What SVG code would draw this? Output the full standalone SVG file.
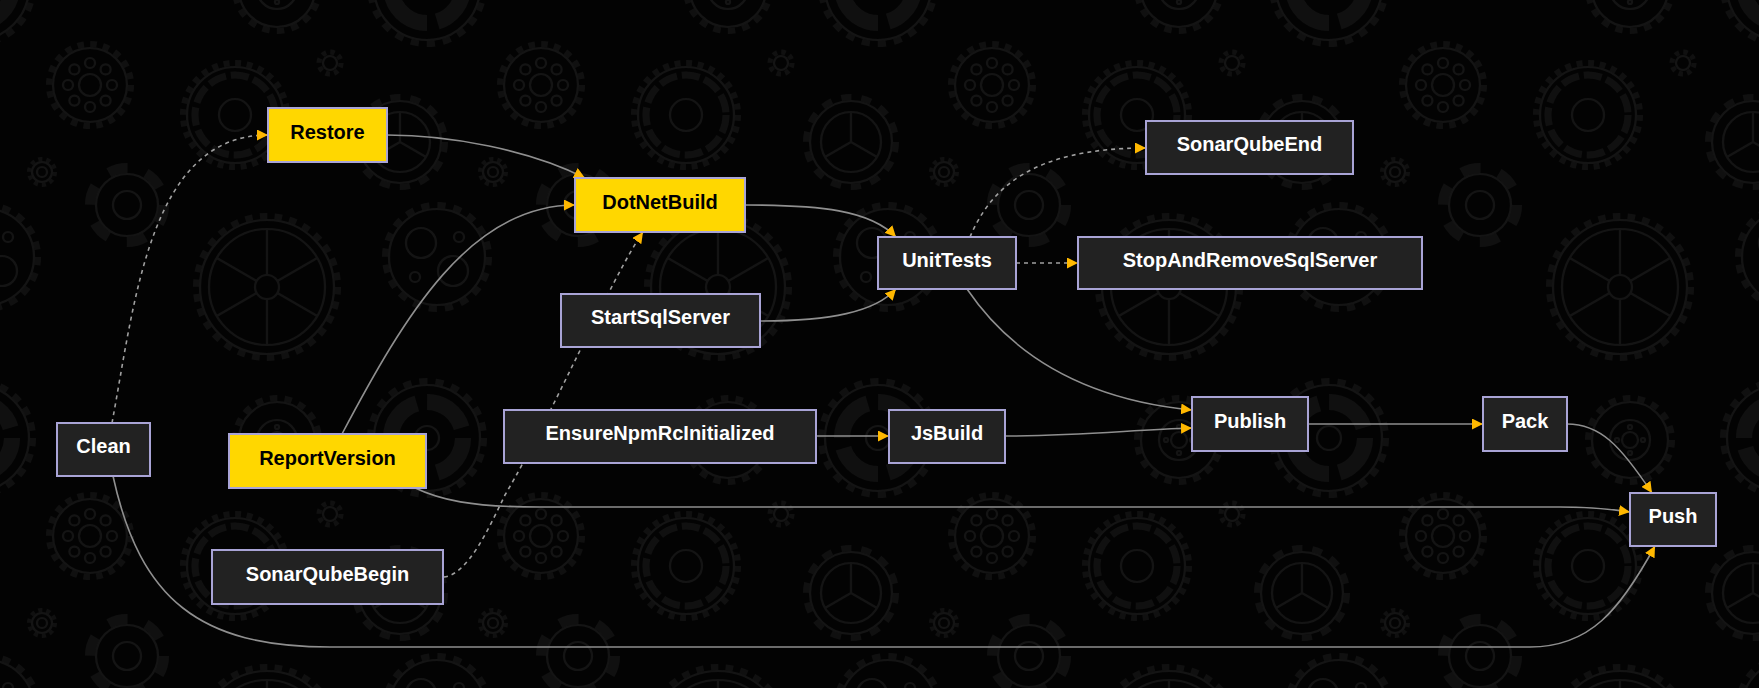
<svg xmlns="http://www.w3.org/2000/svg" width="1759" height="688" viewBox="0 0 1759 688">
<defs>
<style>
.node rect{stroke:#a9a4d6;stroke-width:2}
.dark rect{fill:#222222}
.gold rect{fill:#FFD700}
.node text{font-family:"Liberation Sans",Arial,sans-serif;font-size:20px;font-weight:bold;text-anchor:middle}
.dark text{fill:#ffffff}
.gold text{fill:#000000}
.edge{fill:none;stroke:#8f8f8f;stroke-width:1.6}
.dash{stroke:#a0a0a0;stroke-dasharray:4 4}
.gl{fill:none;stroke:#141414;stroke-width:2.2}
.gt{fill:none;stroke:#101010}
</style>
<marker id="arr" viewBox="0 0 10 10" refX="10" refY="5" markerWidth="11" markerHeight="11" markerUnits="userSpaceOnUse" orient="auto">
<path d="M0,0 L10,5 L0,10 z" fill="#FFB800"/>
</marker>
<g id="gHoles">
<circle class="gt" r="41" stroke-width="6" stroke-dasharray="6.44 6.44"/>
<circle class="gl" r="37"/>
<circle class="gl" r="11"/>
<circle class="gl" cx="22" cy="0" r="5"/><circle class="gl" cx="-22" cy="0" r="5"/>
<circle class="gl" cx="0" cy="22" r="5"/><circle class="gl" cx="0" cy="-22" r="5"/>
<circle class="gl" cx="15.6" cy="15.6" r="5"/><circle class="gl" cx="-15.6" cy="15.6" r="5"/>
<circle class="gl" cx="15.6" cy="-15.6" r="5"/><circle class="gl" cx="-15.6" cy="-15.6" r="5"/>
</g>
<g id="gSun">
<circle class="gt" r="11" stroke-width="5" stroke-dasharray="4.32 4.32"/>
<circle class="gl" r="7" stroke-width="4"/>
</g>
<g id="gDash">
<circle class="gt" r="52" stroke-width="6" stroke-dasharray="5.83 5.83"/>
<circle class="gl" r="48"/>
<circle class="gt" r="40" stroke-width="7" stroke-dasharray="18 5"/>
<circle class="gl" r="16"/>
</g>
<g id="gSpoke">
<circle class="gt" r="71" stroke-width="6" stroke-dasharray="7.43 7.43"/>
<circle class="gl" r="67"/>
<circle class="gl" r="58"/>
<circle class="gl" r="12"/>
<path class="gl" d="M0,-12V-58M0,12V58M10.4,6L50.2,29M-10.4,6L-50.2,29M10.4,-6L50.2,-29M-10.4,-6L-50.2,-29"/>
</g>
<g id="gTwo">
<circle class="gt" r="52" stroke-width="6" stroke-dasharray="8.17 8.17"/>
<circle class="gl" r="48"/>
<circle class="gl" cx="-16" cy="-14" r="15"/>
<circle class="gl" cx="16" cy="14" r="15"/>
<circle class="gl" cx="22" cy="-20" r="5"/>
<circle class="gl" cx="-22" cy="20" r="5"/>
</g>
<g id="gRing">
<circle class="gt" r="13" stroke-width="4" stroke-dasharray="4.08 4.08"/>
<circle class="gl" r="10"/>
<circle class="gl" r="5"/>
</g>
<g id="gY">
<circle class="gt" r="45" stroke-width="6" stroke-dasharray="10.1 10.1"/>
<circle class="gl" r="41"/>
<circle class="gl" r="30"/>
<path class="gl" d="M0,0V-30M0,0L26,15M0,0L-26,15"/>
</g>
<g id="gHex">
<circle class="gt" r="37" stroke-width="10" stroke-dasharray="19.4 19.4"/>
<circle class="gl" r="31"/>
<circle class="gl" r="14"/>
</g>
<g id="gDots">
<circle class="gt" r="42" stroke-width="6" stroke-dasharray="7.33 7.33"/>
<circle class="gl" r="38"/>
<circle class="gl" r="20"/>
<circle class="gl" r="8"/>
<circle class="gl" cx="0" cy="-13" r="2"/><circle class="gl" cx="0" cy="13" r="2"/>
<circle class="gl" cx="13" cy="0" r="2"/><circle class="gl" cx="-13" cy="0" r="2"/>
</g>
<g id="gArc">
<circle class="gt" r="57" stroke-width="6" stroke-dasharray="8.14 8.14"/>
<circle class="gl" r="53"/>
<circle class="gt" r="36" stroke-width="16" stroke-dasharray="46 10.5"/>
<circle class="gl" r="12"/>
</g>
<pattern id="gears" x="0" y="0" width="451" height="451" patternUnits="userSpaceOnUse">
<use href="#gHoles" x="90" y="85"/>
<use href="#gSun" x="330" y="63"/>
<use href="#gDash" x="235" y="115"/>
<use href="#gSpoke" x="267" y="287"/>
<use href="#gTwo" x="437" y="257"/>
<use href="#gTwo" x="-14" y="257"/>
<use href="#gRing" x="42" y="172"/>
<use href="#gY" x="400" y="142"/>
<use href="#gHex" x="127" y="205"/>
<use href="#gDots" x="277" y="440"/>
<use href="#gDots" x="277" y="-11"/>
<use href="#gArc" x="427" y="438"/>
<use href="#gArc" x="-24" y="438"/>
<use href="#gArc" x="427" y="-13"/>
<use href="#gArc" x="-24" y="-13"/>
</pattern>
</defs>
<rect width="1759" height="688" fill="#030303"/>
<rect width="1759" height="688" fill="url(#gears)"/>
<g id="connectors">
<path class="edge dash" d="M112,423 C135,300 150,135 268,135" marker-end="url(#arr)"/>
<path class="edge" d="M387,135 C450,135 530,150 585,178" marker-end="url(#arr)"/>
<path class="edge" d="M342,434 C405,315 470,205 575,205" marker-end="url(#arr)"/>
<path class="edge dash" d="M444,577 C468,574 488,530 505,495 C555,410 610,280 643,232" marker-end="url(#arr)"/>
<path class="edge" d="M745,205 C820,205 870,210 896,237" marker-end="url(#arr)"/>
<path class="edge" d="M760,321 C830,321 875,312 896,289" marker-end="url(#arr)"/>
<path class="edge dash" d="M970,237 C990,190 1030,148 1146,148" marker-end="url(#arr)"/>
<path class="edge dash" d="M1016,263 L1078,263" marker-end="url(#arr)"/>
<path class="edge" d="M967,289 C1005,345 1070,398 1192,410" marker-end="url(#arr)"/>
<path class="edge" d="M816,436 L889,436" marker-end="url(#arr)"/>
<path class="edge" d="M1005,436 C1080,436 1130,430 1192,428" marker-end="url(#arr)"/>
<path class="edge" d="M1308,424 L1483,424" marker-end="url(#arr)"/>
<path class="edge" d="M1567,424 C1600,424 1620,445 1652,493" marker-end="url(#arr)"/>
<path class="edge" d="M413,487 C440,500 470,507 540,507 L1560,507 C1600,507 1615,510 1630,512" marker-end="url(#arr)"/>
<path class="edge" d="M113,476 C140,600 200,647 330,647 L1530,647 C1590,647 1620,610 1655,546" marker-end="url(#arr)"/>
</g>
<g id="Restore" class="node gold"><rect x="268" y="108" width="119" height="54"/><text x="327.5" y="138.5">Restore</text></g>
<g id="DotNetBuild" class="node gold"><rect x="575" y="178" width="170" height="54"/><text x="660" y="208.5">DotNetBuild</text></g>
<g id="SonarQubeEnd" class="node dark"><rect x="1146" y="121" width="207" height="53"/><text x="1249.5" y="151">SonarQubeEnd</text></g>
<g id="UnitTests" class="node dark"><rect x="878" y="237" width="138" height="52"/><text x="947" y="266.5">UnitTests</text></g>
<g id="StopAndRemoveSqlServer" class="node dark"><rect x="1078" y="237" width="344" height="52"/><text x="1250" y="266.5">StopAndRemoveSqlServer</text></g>
<g id="StartSqlServer" class="node dark"><rect x="561" y="294" width="199" height="53"/><text x="660.5" y="324">StartSqlServer</text></g>
<g id="EnsureNpmRcInitialized" class="node dark"><rect x="504" y="410" width="312" height="53"/><text x="660" y="440">EnsureNpmRcInitialized</text></g>
<g id="JsBuild" class="node dark"><rect x="889" y="410" width="116" height="53"/><text x="947" y="440">JsBuild</text></g>
<g id="Publish" class="node dark"><rect x="1192" y="397" width="116" height="54"/><text x="1250" y="427.5">Publish</text></g>
<g id="Pack" class="node dark"><rect x="1483" y="397" width="84" height="54"/><text x="1525" y="427.5">Pack</text></g>
<g id="Clean" class="node dark"><rect x="57" y="423" width="93" height="53"/><text x="103.5" y="453">Clean</text></g>
<g id="ReportVersion" class="node gold"><rect x="229" y="434" width="197" height="54"/><text x="327.5" y="464.5">ReportVersion</text></g>
<g id="Push" class="node dark"><rect x="1630" y="493" width="86" height="53"/><text x="1673" y="523">Push</text></g>
<g id="SonarQubeBegin" class="node dark"><rect x="212" y="550" width="231" height="54"/><text x="327.5" y="580.5">SonarQubeBegin</text></g>
</svg>
